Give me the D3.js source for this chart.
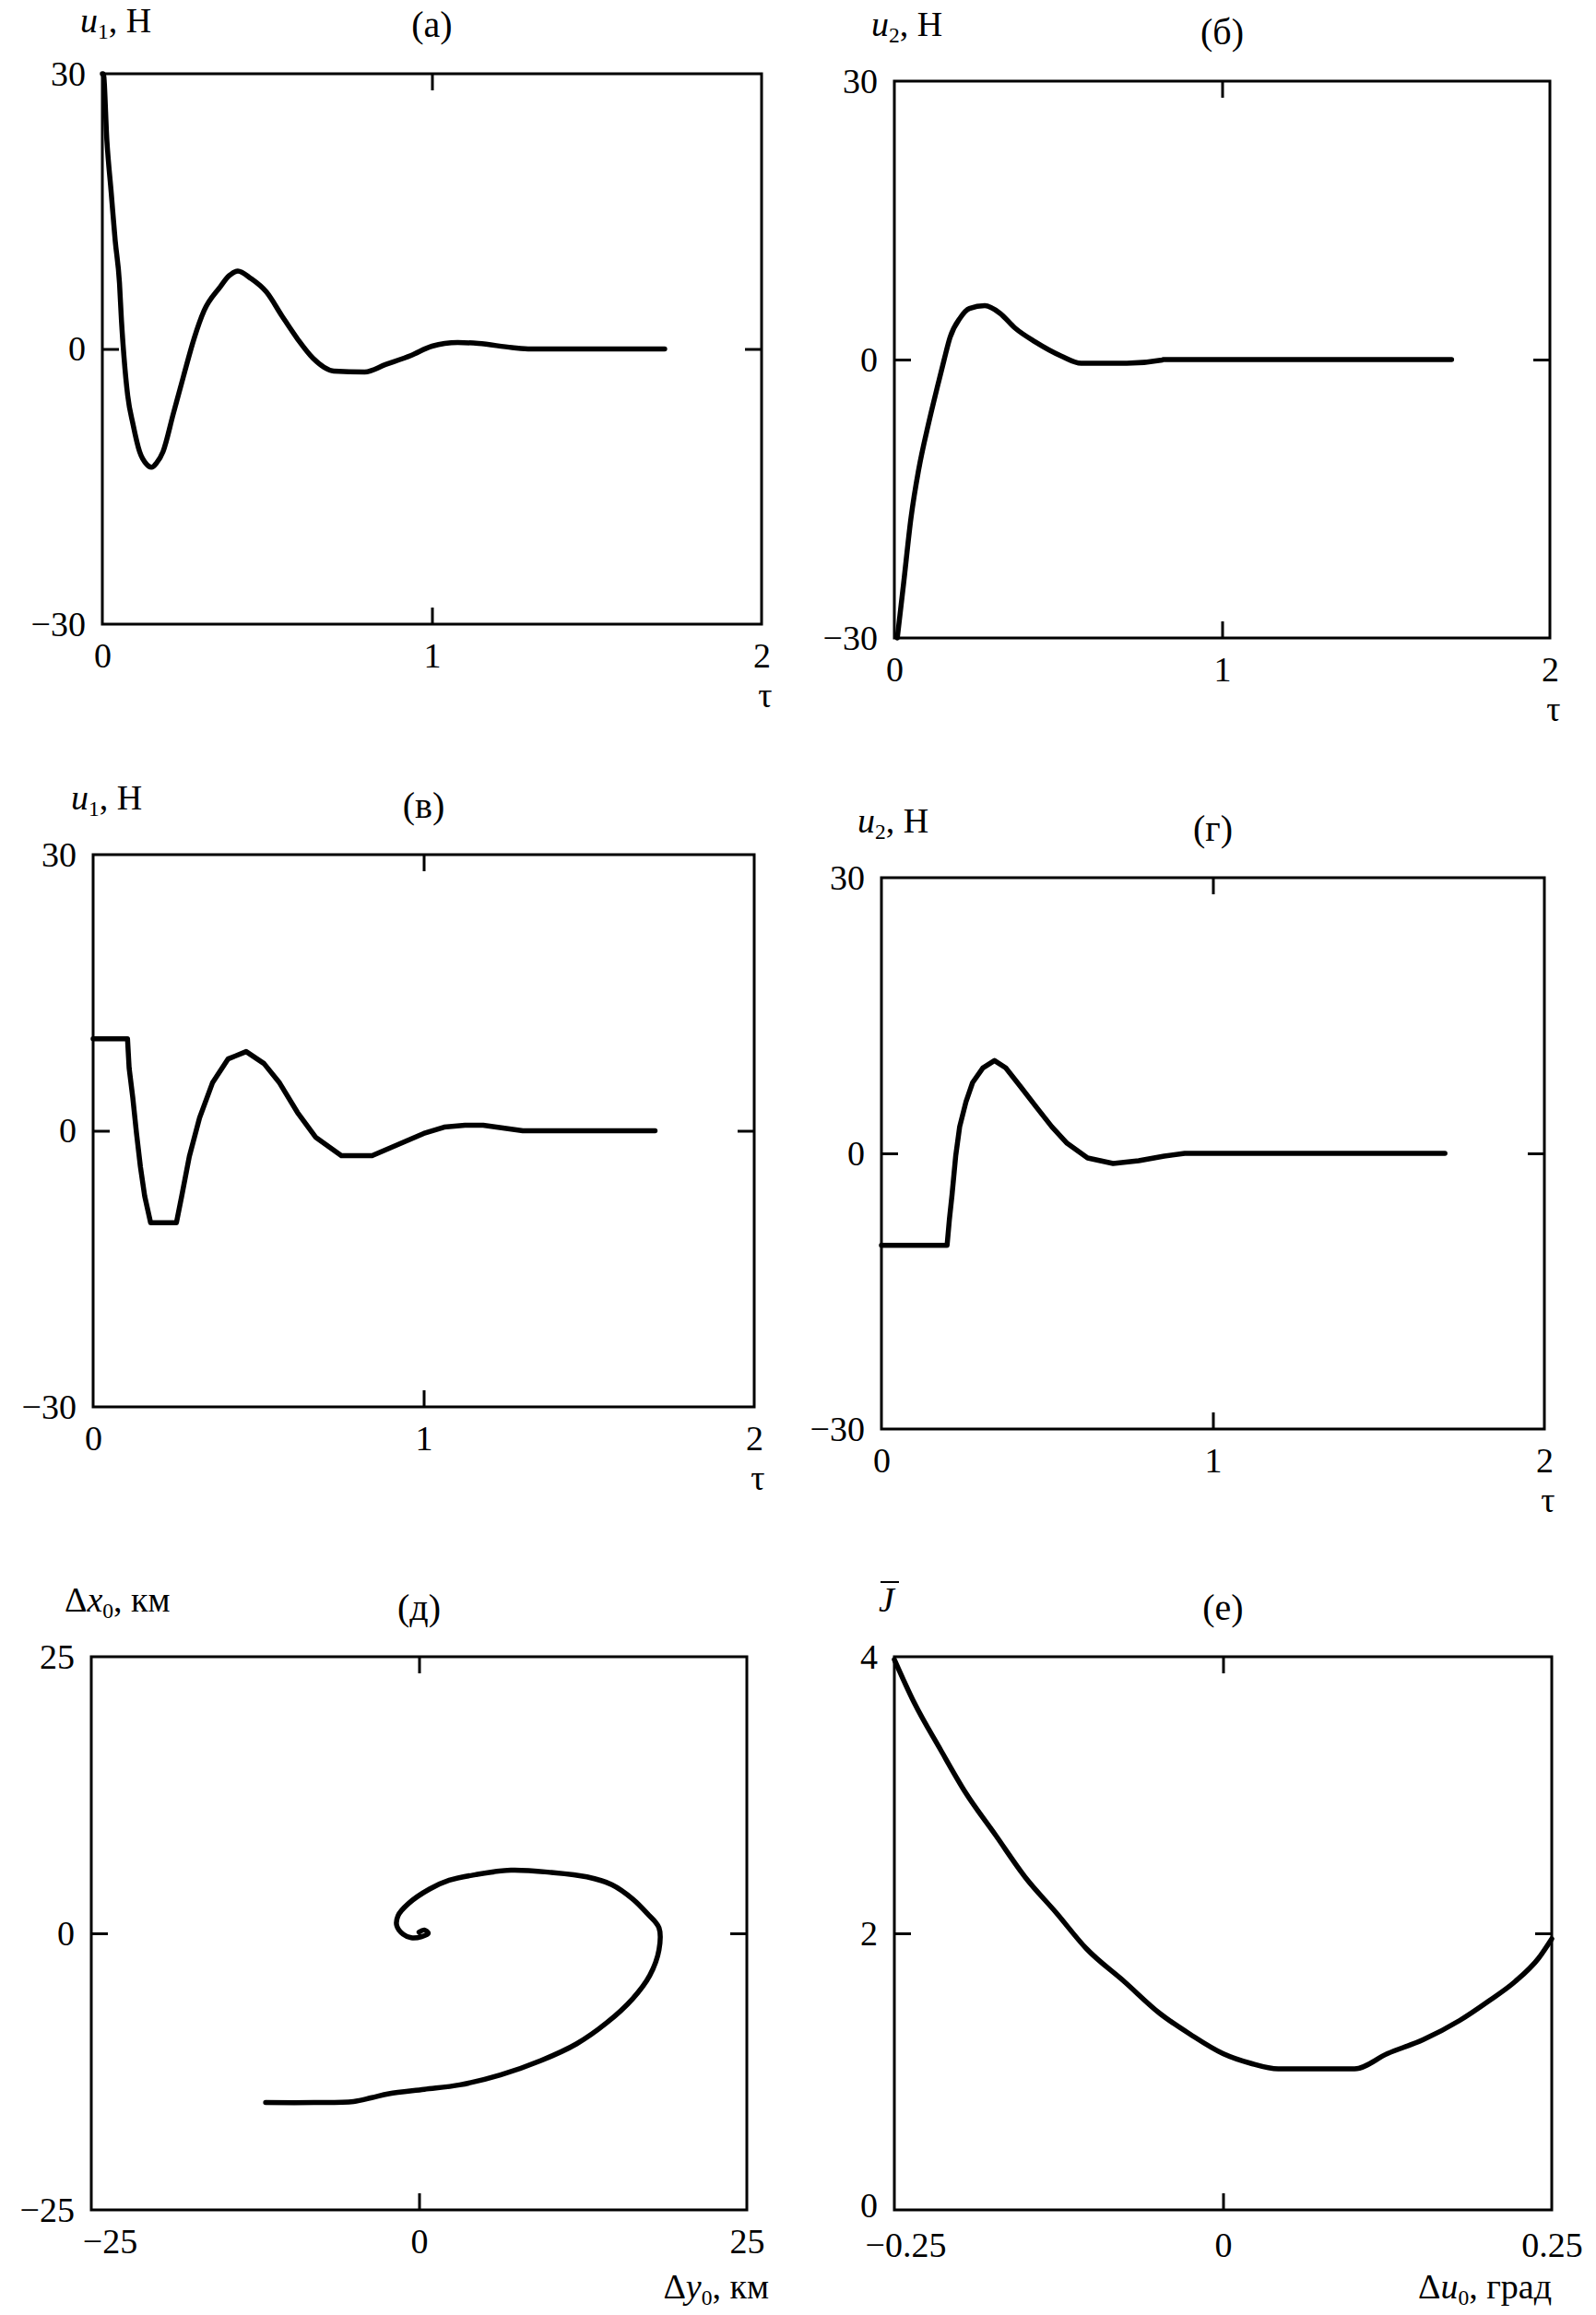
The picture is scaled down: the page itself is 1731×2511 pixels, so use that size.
<!DOCTYPE html>
<html><head><meta charset="utf-8">
<script src="https://cdn.jsdelivr.net/npm/d3@7"></script>
<style>
body{margin:0;background:#fff}
svg{display:block}
text{font-family:"Liberation Serif","Times New Roman",serif;fill:#000}
</style>
</head><body>
<svg id="c" width="1731" height="2511"></svg>
<script>
// ---------- DATA ----------
const tauTicks = [0, 1, 2];
const tauTickLabels = ["0", "1", "2"];
const uTicks = [-30, 0, 30];
const uTickLabels = ["\u221230", "0", "30"];

// (а) u1(τ)
const tauA = [0.0,0.003,0.014,0.027,0.039,0.052,0.058,0.066,0.077,0.093,0.113,0.135,0.149,0.165,0.184,0.215,0.246,0.278,0.309,0.356,0.385,0.411,0.45,0.498,0.545,0.592,0.639,0.702,0.796,0.859,0.937,1.0,1.078,1.141,1.243,1.3,1.706];
const u1A  = [30,30,22.6,17,11.8,7.2,3.1,-1,-5.1,-8.2,-11.2,-12.6,-12.9,-12.4,-11.2,-7.1,-3,1.1,4.2,6.7,8.0,8.5,7.7,6.2,3.6,1.1,-1,-2.4,-2.5,-1.7,-0.7,0.3,0.7,0.6,0.15,0,0];

// (б) u2(τ)
const tauB = [0.009,0.028,0.051,0.074,0.105,0.133,0.152,0.170,0.201,0.229,0.276,0.322,0.368,0.430,0.508,0.570,0.709,0.817,0.82,1.70];
const u2B  = [-30,-24.2,-17,-11.9,-6.8,-2.7,0,2.4,4.5,5.5,5.8,5.0,3.4,1.9,0.4,-0.4,-0.4,-0.05,0,0];

// (в) u1(τ), bounded control
const tauC = [0,0.104,0.109,0.12,0.131,0.143,0.156,0.174,0.252,0.268,0.291,0.322,0.361,0.408,0.463,0.517,0.564,0.618,0.673,0.751,0.844,0.922,1.0,1.062,1.125,1.18,1.28,1.3,1.70];
const u1C  = [10,10,6.8,3.6,-0.2,-3.9,-7.1,-10,-10,-7.1,-2.8,1.4,5.2,7.8,8.6,7.3,5.2,2.0,-0.7,-2.7,-2.7,-1.5,-0.3,0.4,0.6,0.6,0.1,0,0];

// (г) u2(τ), bounded control
const tauD = [0,0.198,0.205,0.213,0.224,0.236,0.255,0.275,0.306,0.341,0.375,0.421,0.468,0.514,0.560,0.622,0.699,0.776,0.853,0.915,1.70];
const u2D  = [-10,-10,-7.2,-4.5,-0.3,2.9,5.6,7.7,9.3,10.1,9.3,7.2,5.0,2.9,1.1,-0.5,-1.1,-0.8,-0.3,0,0];

// (д) trajectory Δy0, Δx0 (km)
const kmTicks = [-25, 0, 25];
const kmTickLabels = ["\u221225", "0", "25"];
const dyE = [-11.7,-8.0,-5.0,-3.6,-2.3,0.4,3.1,6.2,9.3,12.0,14.3,16.3,17.6,18.3,18.3,17.4,16.3,14.7,12.8,10.1,7.0,4.3,2.3,0.8,-0.8,-1.6,-1.7,-1.2,-0.6,0.2,0.7,0.4,0.0];
const dxE = [-15.3,-15.3,-15.2,-14.85,-14.5,-14.1,-13.7,-12.8,-11.5,-10.0,-8.1,-5.9,-3.8,-1.5,0.5,1.8,3.1,4.4,5.1,5.5,5.7,5.3,4.8,4.0,2.7,1.6,0.7,-0.1,-0.4,-0.3,0.0,0.3,0.1];

// (е) J̄(Δu0)
const duTicks = [-0.25, 0, 0.25];
const duTickLabels = ["\u22120.25", "0", "0.25"];
const jTicks = [0, 2, 4];
const jTickLabels = ["0", "2", "4"];
const duF = [-0.25,-0.235,-0.215,-0.196,-0.173,-0.150,-0.127,-0.104,-0.075,-0.048,-0.025,0,0.021,0.042,0.1,0.125,0.152,0.18,0.202,0.222,0.24,0.25];
const jF  = [3.98,3.67,3.33,3.02,2.71,2.40,2.15,1.89,1.65,1.42,1.27,1.13,1.06,1.02,1.02,1.13,1.23,1.37,1.51,1.65,1.82,1.96];

// ---------- LAYOUT ----------
const svg = d3.select("#c");
const FS = 38, TFS = 40, TICK = 18;

function label(g, x, y, parts, anchor) {
  const t = g.append("text").attr("x", x).attr("y", y).attr("font-size", FS)
    .attr("text-anchor", anchor || "start");
  parts.forEach(p => {
    const ts = t.append("tspan").text(p.t);
    if (p.i) ts.attr("font-style", "italic");
    if (p.sub) ts.attr("font-size", FS * 0.62).attr("dy", 7);
    if (p.up) ts.attr("dy", -7);
  });
  return t;
}

function panel(cfg) {
  const [L, T, R, B] = cfg.box;
  const x = d3.scaleLinear().domain(cfg.xDom).range([L, R]);
  const y = d3.scaleLinear().domain(cfg.yDom).range([B, T]);
  const g = svg.append("g");
  const xm = cfg.xTicks[1], ym = cfg.yTicks[1];

  const ax = g.append("g").attr("transform", `translate(0,${B})`)
    .call(d3.axisBottom(x).tickValues(cfg.xTicks).tickSize(-TICK).tickPadding(cfg.xPad || 20)
      .tickFormat((d, i) => cfg.xLabels[i]));
  const ay = g.append("g").attr("transform", `translate(${L},0)`)
    .call(d3.axisLeft(y).tickValues(cfg.yTicks).tickSize(-TICK).tickPadding(18)
      .tickFormat((d, i) => cfg.yLabels[i]));
  g.append("g").attr("transform", `translate(0,${T})`)
    .call(d3.axisTop(x).tickValues([xm]).tickSize(-TICK).tickFormat(""));
  g.append("g").attr("transform", `translate(${R},0)`)
    .call(d3.axisRight(y).tickValues([ym]).tickSize(-TICK).tickFormat(""));
  g.selectAll(".domain").remove();
  [ax, ay].forEach(a => a.selectAll(".tick").filter((d, i) => i !== 1).select("line").remove());
  g.selectAll(".tick line").attr("stroke", "#000").attr("stroke-width", 3);
  g.selectAll(".tick text").attr("font-size", FS).attr("font-family", "Liberation Serif").attr("fill", "#000");
  if (cfg.xLabelShift) ax.selectAll(".tick text").attr("dx", (d, i) => cfg.xLabelShift[i]);
  if (cfg.yLowShift) ay.selectAll(".tick text").filter((d, i) => i === 0)
    .attr("transform", `translate(0,${cfg.yLowShift})`);

  g.append("rect").attr("x", L).attr("y", T).attr("width", R - L).attr("height", B - T)
    .attr("fill", "none").attr("stroke", "#000").attr("stroke-width", 3);

  const pts = cfg.xs.map((v, i) => [v, cfg.ys[i]]);
  g.append("path").datum(pts)
    .attr("fill", "none").attr("stroke", "#000").attr("stroke-width", 5.5)
    .attr("stroke-linejoin", "round").attr("stroke-linecap", "round")
    .attr("d", d3.line().x(d => x(d[0])).y(d => y(d[1])).curve(cfg.curve || d3.curveMonotoneX));

  g.append("text").attr("x", (L + R) / 2).attr("y", T - 40).attr("font-size", TFS)
    .attr("text-anchor", "middle").text(cfg.title);
  label(g, L - cfg.ylabDx, Math.max(T - 49, 35), cfg.ylab);
  label(g, cfg.xlabX || R + 4, B + (cfg.xlabDy || 90), cfg.xlab, cfg.xlabAnchor || "middle");
  return {x, y, g};
}

const ylabU1 = [{t:"u", i:true},{t:"1", sub:true},{t:",  Н", up:true}];
const ylabU2 = [{t:"u", i:true},{t:"2", sub:true},{t:",  Н", up:true}];
const xlabTau = [{t:"τ"}];

panel({box:[111,80,826,677], xDom:[0,2], yDom:[-30,30], xTicks:tauTicks, xLabels:tauTickLabels,
  yTicks:uTicks, yLabels:uTickLabels, xs:tauA, ys:u1A, title:"(а)", ylab:ylabU1, ylabDx:24, xlab:xlabTau});
panel({box:[970,88,1681,692], xDom:[0,2], yDom:[-30,30], xTicks:tauTicks, xLabels:tauTickLabels,
  yTicks:uTicks, yLabels:uTickLabels, xs:tauB, ys:u2B, title:"(б)", ylab:ylabU2, ylabDx:25, xlab:xlabTau});
panel({box:[101,927,818,1526], xDom:[0,2], yDom:[-30,30], xTicks:tauTicks, xLabels:tauTickLabels,
  yTicks:uTicks, yLabels:uTickLabels, xs:tauC, ys:u1C, title:"(в)", ylab:ylabU1, ylabDx:24, xlab:xlabTau, curve:d3.curveLinear});
panel({box:[956,952,1675,1550], xDom:[0,2], yDom:[-30,30], xTicks:tauTicks, xLabels:tauTickLabels,
  yTicks:uTicks, yLabels:uTickLabels, xs:tauD, ys:u2D, title:"(г)", ylab:ylabU2, ylabDx:26, xlab:xlabTau, curve:d3.curveLinear});
panel({box:[99,1797,810,2397], xDom:[-25,25], yDom:[-25,25], xTicks:kmTicks, xLabels:kmTickLabels,
  yTicks:kmTicks, yLabels:kmTickLabels, xs:dyE, ys:dxE, title:"(д)",
  ylab:[{t:"Δ"},{t:"x", i:true},{t:"0", sub:true},{t:",  км", up:true}], ylabDx:29,
  xlab:[{t:"Δ"},{t:"y", i:true},{t:"0", sub:true},{t:",  км", up:true}], xlabX:834, xlabAnchor:"end", xlabDy:96,
  curve:d3.curveCatmullRom, xLabelShift:[20,0,0]});
const pe = panel({box:[970,1797,1683,2397], xDom:[-0.25,0.25], yDom:[0,4], xTicks:duTicks, xLabels:duTickLabels,
  yTicks:jTicks, yLabels:jTickLabels, xs:duF, ys:jF, title:"(е)",
  ylab:[{t:"J", i:true}], ylabDx:17,
  xlab:[{t:"Δ"},{t:"u", i:true},{t:"0", sub:true},{t:",  град", up:true}], xlabX:1683, xlabAnchor:"end", xlabDy:96,
  xLabelShift:[12,0,0], xPad:24, yLowShift:-5});
// overbar on J
pe.g.append("line").attr("x1", 955).attr("x2", 975).attr("y1", 1716).attr("y2", 1716)
  .attr("stroke", "#000").attr("stroke-width", 2);
</script>
</body></html>
